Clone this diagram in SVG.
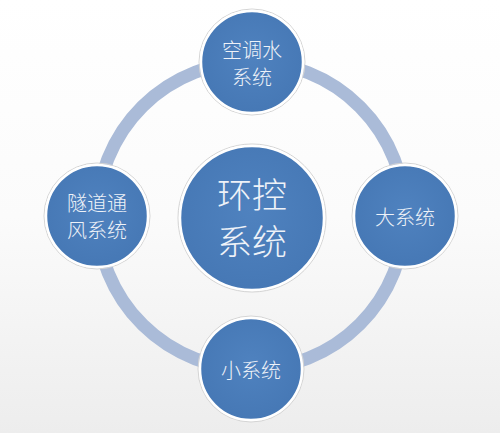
<svg xmlns="http://www.w3.org/2000/svg" width="500" height="433" viewBox="0 0 500 433">
<defs>
<linearGradient id="bg" x1="0" y1="0" x2="0" y2="1">
<stop offset="0" stop-color="#ffffff"/>
<stop offset="0.5" stop-color="#fbfbfb"/>
<stop offset="1" stop-color="#ededed"/>
</linearGradient>
<radialGradient id="nf" cx="0.5" cy="0.45" r="0.55">
<stop offset="0" stop-color="#4f82bf"/>
<stop offset="1" stop-color="#4678b5"/>
</radialGradient>
</defs>
<style>
.node circle{fill:url(#nf);stroke:#ffffff;stroke-width:2.5}
.node .rim{fill:none;stroke:#d4d4d4;stroke-width:1}
.node text{fill:#eef2f8;font-family:"Noto Sans CJK SC","Noto Sans CJK TC",sans-serif;font-weight:300;text-anchor:middle;dominant-baseline:central}
.conn path{fill:none;stroke:#aabbd8;stroke-width:13}
.s{font-size:20px}
.b{font-size:35px}
</style>
<rect width="500" height="433" fill="url(#bg)"/>
<g id="connectors" class="conn">
<path d="M252 62 A153 154 0 0 1 405 216"/>
<path d="M405 216 A153 154 0 0 1 252 369"/>
<path d="M252 369 A153 154 0 0 1 97 216"/>
<path d="M97 216 A153 154 0 0 1 252 62"/>
</g>
<g id="center" class="node">
<circle class="rim" cx="252" cy="218" r="74"/>
<circle cx="252" cy="218" r="72"/>
<text class="b" x="252" y="192">环控<tspan x="252" dy="47">系统</tspan></text>
</g>
<g id="top" class="node">
<circle class="rim" cx="252" cy="62" r="53"/>
<circle cx="252" cy="62" r="51"/>
<text class="s" x="252" y="49">空调水<tspan x="252" dy="27">系统</tspan></text>
</g>
<g id="right" class="node">
<circle class="rim" cx="405" cy="216" r="53"/>
<circle cx="405" cy="216" r="51"/>
<text class="s" x="405" y="216">大系统</text>
</g>
<g id="bottom" class="node">
<circle class="rim" cx="251" cy="369" r="53"/>
<circle cx="251" cy="369" r="51"/>
<text class="s" x="251" y="369">小系统</text>
</g>
<g id="left" class="node">
<circle class="rim" cx="97" cy="216" r="53"/>
<circle cx="97" cy="216" r="51"/>
<text class="s" x="97" y="202">隧道通<tspan x="97" dy="27">风系统</tspan></text>
</g>
</svg>
